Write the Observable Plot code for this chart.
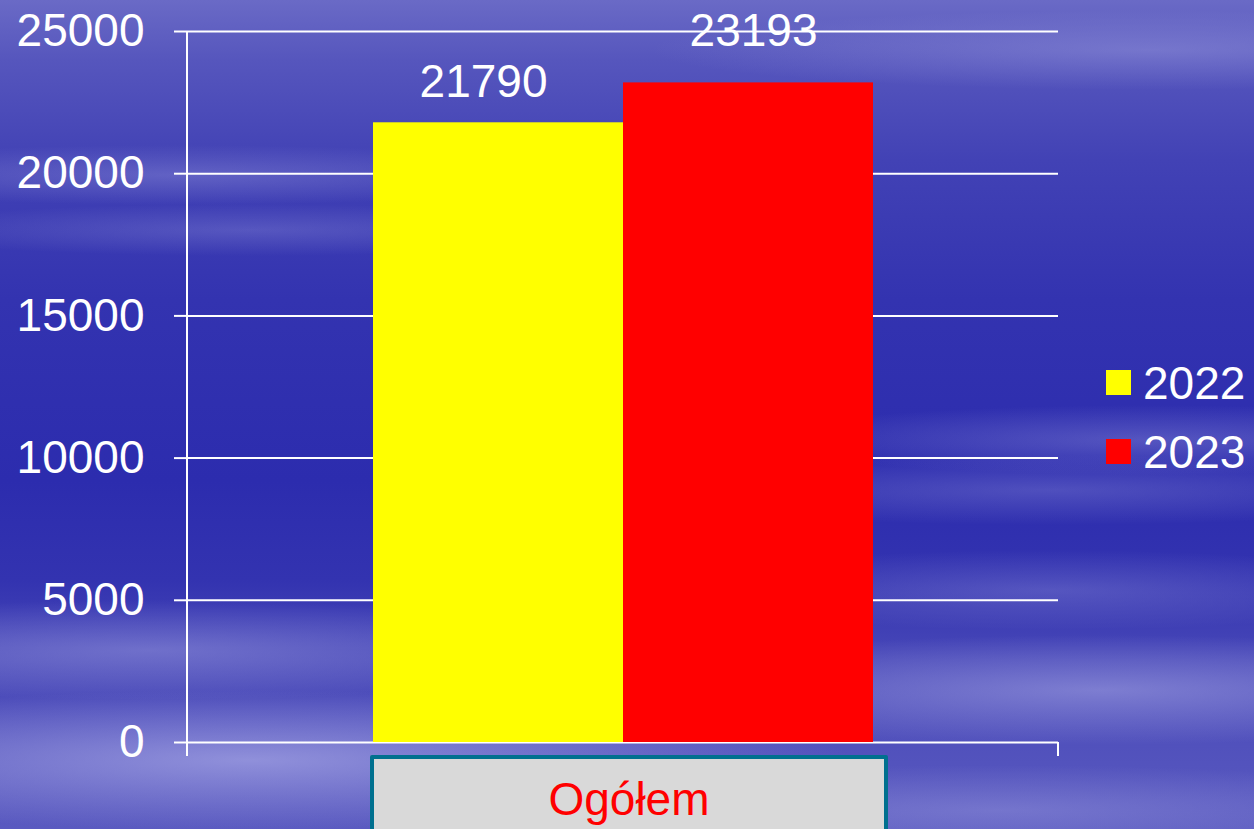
<!DOCTYPE html>
<html>
<head>
<meta charset="utf-8">
<script src="https://cdn.jsdelivr.net/npm/d3@7"></script>
<script src="https://cdn.jsdelivr.net/npm/@observablehq/plot@0.6"></script>
<style>
  html, body { margin: 0; padding: 0; }
  body {
    width: 1254px; height: 829px; overflow: hidden; position: relative;
    font-family: "Liberation Sans", Arial, sans-serif;
    background:
      radial-gradient(ellipse 420px 30px at 180px 175px, rgba(160,160,225,0.35), rgba(160,160,225,0) 100%),
      radial-gradient(ellipse 380px 26px at 250px 230px, rgba(160,160,225,0.28), rgba(160,160,225,0) 100%),
      radial-gradient(ellipse 500px 40px at 1150px 50px, rgba(160,160,225,0.4), rgba(160,160,225,0) 100%),
      radial-gradient(ellipse 400px 35px at 1150px 440px, rgba(160,160,225,0.35), rgba(160,160,225,0) 100%),
      radial-gradient(ellipse 450px 35px at 1050px 490px, rgba(160,160,225,0.3), rgba(160,160,225,0) 100%),
      radial-gradient(ellipse 520px 55px at 1100px 690px, rgba(175,175,232,0.5), rgba(175,175,232,0) 100%),
      radial-gradient(ellipse 400px 40px at 1050px 590px, rgba(160,160,225,0.3), rgba(160,160,225,0) 100%),
      radial-gradient(ellipse 600px 70px at 250px 760px, rgba(185,185,238,0.6), rgba(185,185,238,0) 100%),
      radial-gradient(ellipse 500px 50px at 150px 650px, rgba(175,175,232,0.4), rgba(175,175,232,0) 100%),
      radial-gradient(ellipse 500px 45px at 1000px 810px, rgba(160,160,225,0.4), rgba(160,160,225,0) 100%),
      linear-gradient(to bottom, #6a6ac6 0px, #5656bd 60px, #4242b5 160px, #3333b0 300px, #2c2cae 480px, #3333b0 580px, #4848b8 660px, #5a5ac0 829px);
  }
  #chart { position: absolute; left: 0; top: 0; }
  #catbox {
    position: absolute; left: 370px; top: 755px; width: 518px; height: 80px;
    background: #d9d9d9; border: 4px solid #00708f; border-radius: 2px;
    color: #ff0000; font-size: 46px; text-align: center; line-height: 80px;
    box-sizing: border-box; padding-top: 0px;
  }
  #legend { position: absolute; left: 1106px; top: 348px; color: #fff; font-size: 46px; }
  .li { display: flex; align-items: center; height: 69px; }
  .sw { width: 25px; height: 25px; margin-right: 12px; }
</style>
</head>
<body>
<div id="chart"></div>
<div id="catbox"></div>
<div id="legend"></div>
<script>
const category = "Ogółem";
const years = ["2022", "2023"];
const values = [21790, 23193];
const colors = ["#ffff00", "#ff0000"];
const yTicks = [0, 5000, 10000, 15000, 20000, 25000];

const data = years.map((y, i) => ({year: y, value: values[i]}));

const axisLines = (index, scales, values, dim) => {
  const x0 = dim.marginLeft, x1 = dim.width - dim.marginRight;
  const yb = dim.height - dim.marginBottom, yt = dim.marginTop;
  const g = d3.create("svg:g").attr("stroke", "#fff").attr("stroke-width", 2).attr("fill", "none");
  g.append("line").attr("x1", x0).attr("x2", x0).attr("y1", yt).attr("y2", yb + 14);
  g.append("line").attr("x1", x1).attr("x2", x1).attr("y1", yb).attr("y2", yb + 14);
  return g.node();
};

const labelStyle = {x: "year", y: "value", text: d => String(d.value), fill: "#fff", fontSize: 46, lineAnchor: "middle"};

const chart = Plot.plot({
  width: 1254,
  height: 829,
  marginLeft: 187,
  marginRight: 196,
  marginTop: 31,
  marginBottom: 87,
  style: {background: "transparent", fontFamily: "Liberation Sans, Arial, sans-serif", color: "#fff"},
  x: {domain: years, paddingInner: 0, paddingOuter: 0.742, axis: null},
  y: {domain: [0, 25000], ticks: yTicks},
  color: {domain: years, range: colors},
  marks: [
    Plot.ruleY(yTicks, {stroke: "#fff", strokeWidth: 2, strokeOpacity: 1}),
    Plot.axisY({ticks: yTicks, tickFormat: d => String(d), tickSize: 13, tickPadding: 30,
      fontSize: 46, stroke: "#fff", strokeWidth: 2, fill: "#fff", label: null}),
    Plot.barY(data, {x: "year", y: "value", fill: "year"}),
    Plot.text(data.filter(d => d.year === years[0]), {...labelStyle, dx: -15, dy: -41}),
    Plot.text(data.filter(d => d.year === years[1]), {...labelStyle, dx: 5, dy: -52}),
    axisLines
  ]
});
document.getElementById("chart").appendChild(chart);

document.getElementById("catbox").textContent = category;
const leg = document.getElementById("legend");
years.forEach((y, i) => {
  const d = document.createElement("div");
  d.className = "li";
  d.innerHTML = `<div class="sw" style="background:${colors[i]}"></div><span>${y}</span>`;
  leg.appendChild(d);
});
</script>
</body>
</html>
